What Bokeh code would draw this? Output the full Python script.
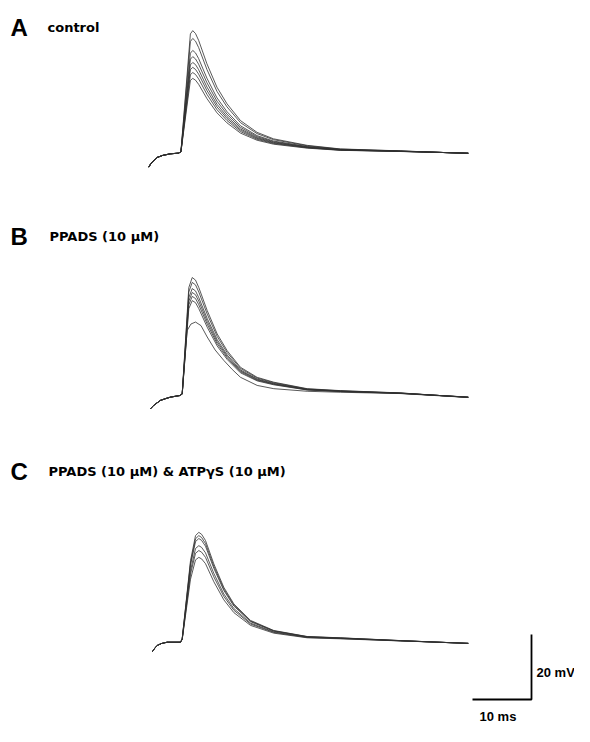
import numpy as np
from bokeh.plotting import figure
from bokeh.models import Range1d, Label, ColumnDataSource
from bokeh.embed import file_html
from bokeh.resources import INLINE

# ---------------- data (ms, mV relative to pre-spike plateau) ----------------
# Panel A: control - template trace (largest response) and peak amplitudes of all sweeps
a_t = [0.05, 0.4, 0.9, 1.5, 2.4, 3.7, 5.1, 5.5, 7.1, 7.5, 7.97, 8.5, 9.9, 11.6, 13.3, 15.6, 18.4, 21.2, 26.9, 32.5, 42.7, 54.2]
a_v = [-4.5, -3.4, -2.5, -1.5, -0.9, -0.4, -0.2, 0.3, 36.5, 37.5, 36.6, 34.5, 27.3, 20.1, 15.0, 9.8, 6.2, 4.2, 2.2, 1.1, 0.5, -0.3]
a_peaks = [37.5, 35.1, 31.4, 29.5, 27.7, 26.2, 24.6, 22.8]

# Panel B: PPADS (10 uM)
b_t = [0.34, 0.9, 2.03, 3.0, 3.73, 5.31, 5.71, 6.83, 7.41, 7.97, 8.53, 9.95, 11.64, 13.34, 15.59, 18.42, 21.24, 26.90, 32.54, 42.7, 54.2]
b_v = [-4.1, -3.0, -1.5, -0.9, -0.5, 0.0, 0.5, 33.3, 36.4, 35.6, 33.3, 26.2, 19.0, 13.8, 8.7, 5.6, 4.1, 2.1, 1.5, 0.8, -0.6]
b_peaks = [36.3, 34.8, 32.9, 31.7, 30.5, 29.2]
b_low_t = [0.34, 0.9, 2.03, 3.0, 3.73, 5.31, 5.71, 6.55, 7.2, 7.97, 8.9, 9.95, 11.3, 12.76, 14.2, 15.59, 18.42, 21.24, 26.9, 32.54, 42.7, 54.2]
b_low_v = [-4.1, -3.0, -1.5, -0.9, -0.5, 0.0, 0.5, 20.0, 22.0, 22.6, 21.5, 18.0, 14.0, 10.8, 8.0, 5.6, 3.1, 2.1, 1.3, 1.0, 0.6, -0.6]

# Panel C: PPADS (10 uM) & ATPgS (10 uM)
c_t = [0.63, 1.0, 1.47, 2.2, 3.17, 5.42, 5.71, 7.12, 7.97, 8.53, 9.0, 9.66, 11.07, 12.76, 14.46, 17.29, 21.24, 26.9, 32.5, 42.7, 54.2]
c_v = [-3.0, -2.0, -1.0, -0.4, 0.0, 0.0, 1.05, 25.1, 32.8, 33.8, 33.2, 31.3, 24.1, 16.9, 11.8, 6.7, 3.6, 1.75, 1.35, 0.5, -0.4]
c_peaks = [33.8, 32.8, 31.9, 29.7, 28.2, 26.1]

ONSET_MS = 5.5          # start of the rising phase (sweeps identical before it)
SCALE_MS = 10           # scale bar
SCALE_MV = 20

panel_letters = ["A", "B", "C"]
panel_titles = ["control", "PPADS  (10 \u03bcM)", "PPADS (10 \u03bcM) & ATP\u03b3S (10 \u03bcM)"]

# ---------------- layout ----------------
W, H = 574, 726
PX_MS = 5.9            # pixels per ms
PX_MV = 3.25           # pixels per mV
X0_PX = 148            # screen x of t = 0
panel_base_px = [152, 395, 641.7]   # screen y (from top) of each panel's plateau

def yoff(px_from_top):
    return (H - px_from_top) / PX_MV

p = figure(width=W, height=H, output_backend="svg", toolbar_location=None,
           x_range=Range1d(-X0_PX / PX_MS, (W - X0_PX) / PX_MS),
           y_range=Range1d(0, H / PX_MV), min_border=0)
p.axis.visible = False
p.grid.visible = False
p.outline_line_color = None
p.background_fill_color = "white"

def sweeps(t, v, peaks):
    t = np.asarray(t, float)
    v = np.asarray(v, float)
    vmax = v.max()
    out = []
    for pk in peaks:
        s = np.where(t >= ONSET_MS, pk / vmax, 1.0)
        out.append(v * s)
    return t, out

LINE = dict(line_color="#303030", line_width=1.0, line_alpha=0.8)

panels = [(a_t, a_v, a_peaks, []), (b_t, b_v, b_peaks, [(b_low_t, b_low_v)]), (c_t, c_v, c_peaks, [])]
for i, (t, v, peaks, extra) in enumerate(panels):
    off = yoff(panel_base_px[i])
    tt, traces = sweeps(t, v, peaks)
    xs = [list(tt) for _ in traces]
    ys = [list(tr + off) for tr in traces]
    for et, ev in extra:
        xs.append(list(et))
        ys.append([x + off for x in ev])
    src = ColumnDataSource(dict(xs=xs, ys=ys))
    p.multi_line("xs", "ys", source=src, **LINE)

# scale bar
bar_x1 = (531 - X0_PX) / PX_MS
bar_y0 = yoff(699)
p.line([bar_x1 - SCALE_MS, bar_x1, bar_x1], [bar_y0, bar_y0, bar_y0 + SCALE_MV],
       line_color="black", line_width=1.8)

# texts (screen coordinates, y measured from bottom)
def label(txt, x, y_top, size, font):
    p.add_layout(Label(x=x, y=H - y_top, x_units="screen", y_units="screen", text=txt,
                       text_font=font, text_font_style="bold", text_font_size=size,
                       text_baseline="alphabetic", text_align="left", text_color="black"))

letter_base = [27, 236, 471]
title_x = [47, 49, 48]
for i in range(3):
    label(panel_letters[i], 10, letter_base[i], "24px", "Liberation Sans")
    label(panel_titles[i], title_x[i], letter_base[i], "13px", "DejaVu Sans")

label("20 mV", 536, 672, "13px", "Liberation Sans")
label("10 ms", 479, 716, "13px", "Liberation Sans")

open("out.html", "w").write(file_html(p, INLINE))
